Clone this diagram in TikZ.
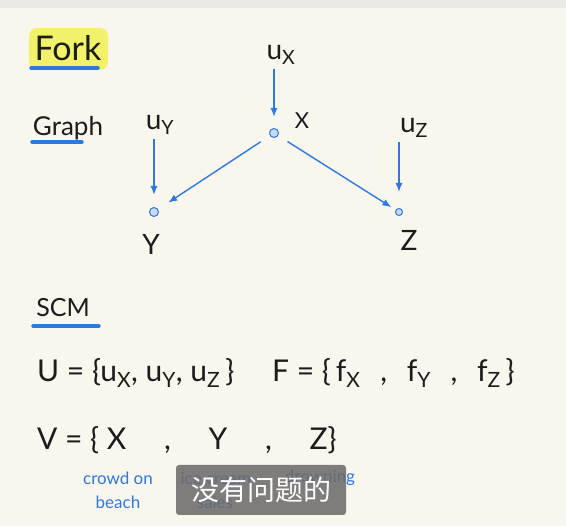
\documentclass[tikz,border=0pt]{standalone}
\usepackage{fontspec}
\setmainfont{Lato}
\newfontfamily\cjk{Noto Sans CJK SC}
\usetikzlibrary{arrows.meta, positioning}
\definecolor{paper}  {HTML}{F9F6EE}
\definecolor{topbar} {HTML}{E9E9E7}
\definecolor{penblue}{HTML}{2F78DC}
\definecolor{ink}    {HTML}{1C1C1C}
\definecolor{marker} {HTML}{F2F26A}
\definecolor{dotfill}{HTML}{C9D9F2}
\definecolor{subbox} {HTML}{6A6A6A}

\begin{document}
\begin{tikzpicture}[x=1pt, y=-1pt,
    txt/.style={text=ink, inner sep=0pt},
    var/.style={circle, draw=penblue, fill=dotfill, line width=1pt,
                minimum size=9pt, inner sep=0pt},
    arr/.style={-{Latex[length=9pt, width=7pt]}, line width=1.4pt, penblue},
    uline/.style={line width=3.4pt, penblue, line cap=round},
    note/.style={text=penblue, inner sep=0pt, font=\fontsize{17}{19}\selectfont},
  ]
    \fill[paper]  (0,0) rectangle (566,526);
    \fill[topbar] (0,0) rectangle (566,8);

    % headings
    \fill[marker, rounded corners=8pt] (29,28) rectangle (108,70);
    \node[txt, font=\fontsize{34}{40}\selectfont] (fork) at (68,48) {Fork};
    \draw[uline] (31,68) -- (98,68);

    \node[txt, font=\fontsize{26}{30}\selectfont] (graph) at (68,128) {Graph};
    \draw[uline] (32,142) -- (82,142);

    % graph
    \node[var] (x) at (274,133) {};
    \node[var] (y) at (154,212) {};
    \node[var, minimum size=7pt] (z) at (399,212) {};

    \node[txt, font=\fontsize{22}{26}\selectfont] (xl) at (302,121) {X};
    \node[txt, font=\fontsize{28}{32}\selectfont] (yl) at (151,244) {Y};
    \node[txt, font=\fontsize{28}{32}\selectfont] (zl) at (409,240) {Z};

    \node[txt, font=\fontsize{28}{32}\selectfont] (ux) at (281,55)  {u\textsubscript{X}};
    \node[txt, font=\fontsize{28}{32}\selectfont] (uy) at (160,125) {u\textsubscript{Y}};
    \node[txt, font=\fontsize{28}{32}\selectfont] (uz) at (414,128) {u\textsubscript{Z}};

    \draw[arr, shorten <=4pt, shorten >=11pt] (ux.south -| x) -- (x);
    \draw[arr, shorten <=4pt, shorten >=12pt] (uy.south -| y) -- (y);
    \draw[arr, shorten <=4pt, shorten >=16pt] (uz.south -| z) -- (z);
    \draw[arr, shorten <=11pt, shorten >=12pt] (x) -- (y);
    \draw[arr, shorten <=11pt, shorten >=5pt]  (x) -- (z);

    % SCM
    \node[txt, font=\fontsize{25}{30}\selectfont] (scm) at (63,308) {SCM};
    \draw[uline] (33,326) -- (99,326);

    \node[txt, anchor=west, font=\fontsize{30}{36}\selectfont] (uset) at (37,373)
      {U = \{u\textsubscript{X}, u\textsubscript{Y}, u\textsubscript{Z}\,\}};
    \node[txt, anchor=west, font=\fontsize{30}{36}\selectfont] (fset) at (272,373)
      {F = \{\,f\textsubscript{X} \hspace{12pt}, \hspace{12pt}f\textsubscript{Y} \hspace{12pt}, \hspace{12pt}f\textsubscript{Z}\,\}};
    \node[txt, anchor=west, font=\fontsize{30}{36}\selectfont] (vset) at (37,440)
      {V = \{ X \quad, \quad Y \quad, \quad Z\}};

    \node[note] (crowd) at (118,478) {crowd on};
    \node[note] (beach) at (118,502) {beach};
    \node[note] (ice)   at (216,478) {ice cream};
    \node[note] (sales) at (215,502) {sales};
    \node[note] (drown) at (320,478) {drowning};

    % subtitle
    \node[fill=subbox, fill opacity=0.86, text opacity=1, text=white,
          rounded corners=3pt, minimum width=170pt, minimum height=50pt,
          font=\cjk\fontsize{28}{30}\selectfont] (sub) at (261,490) {没有问题的};
  \end{tikzpicture}
\end{document}
